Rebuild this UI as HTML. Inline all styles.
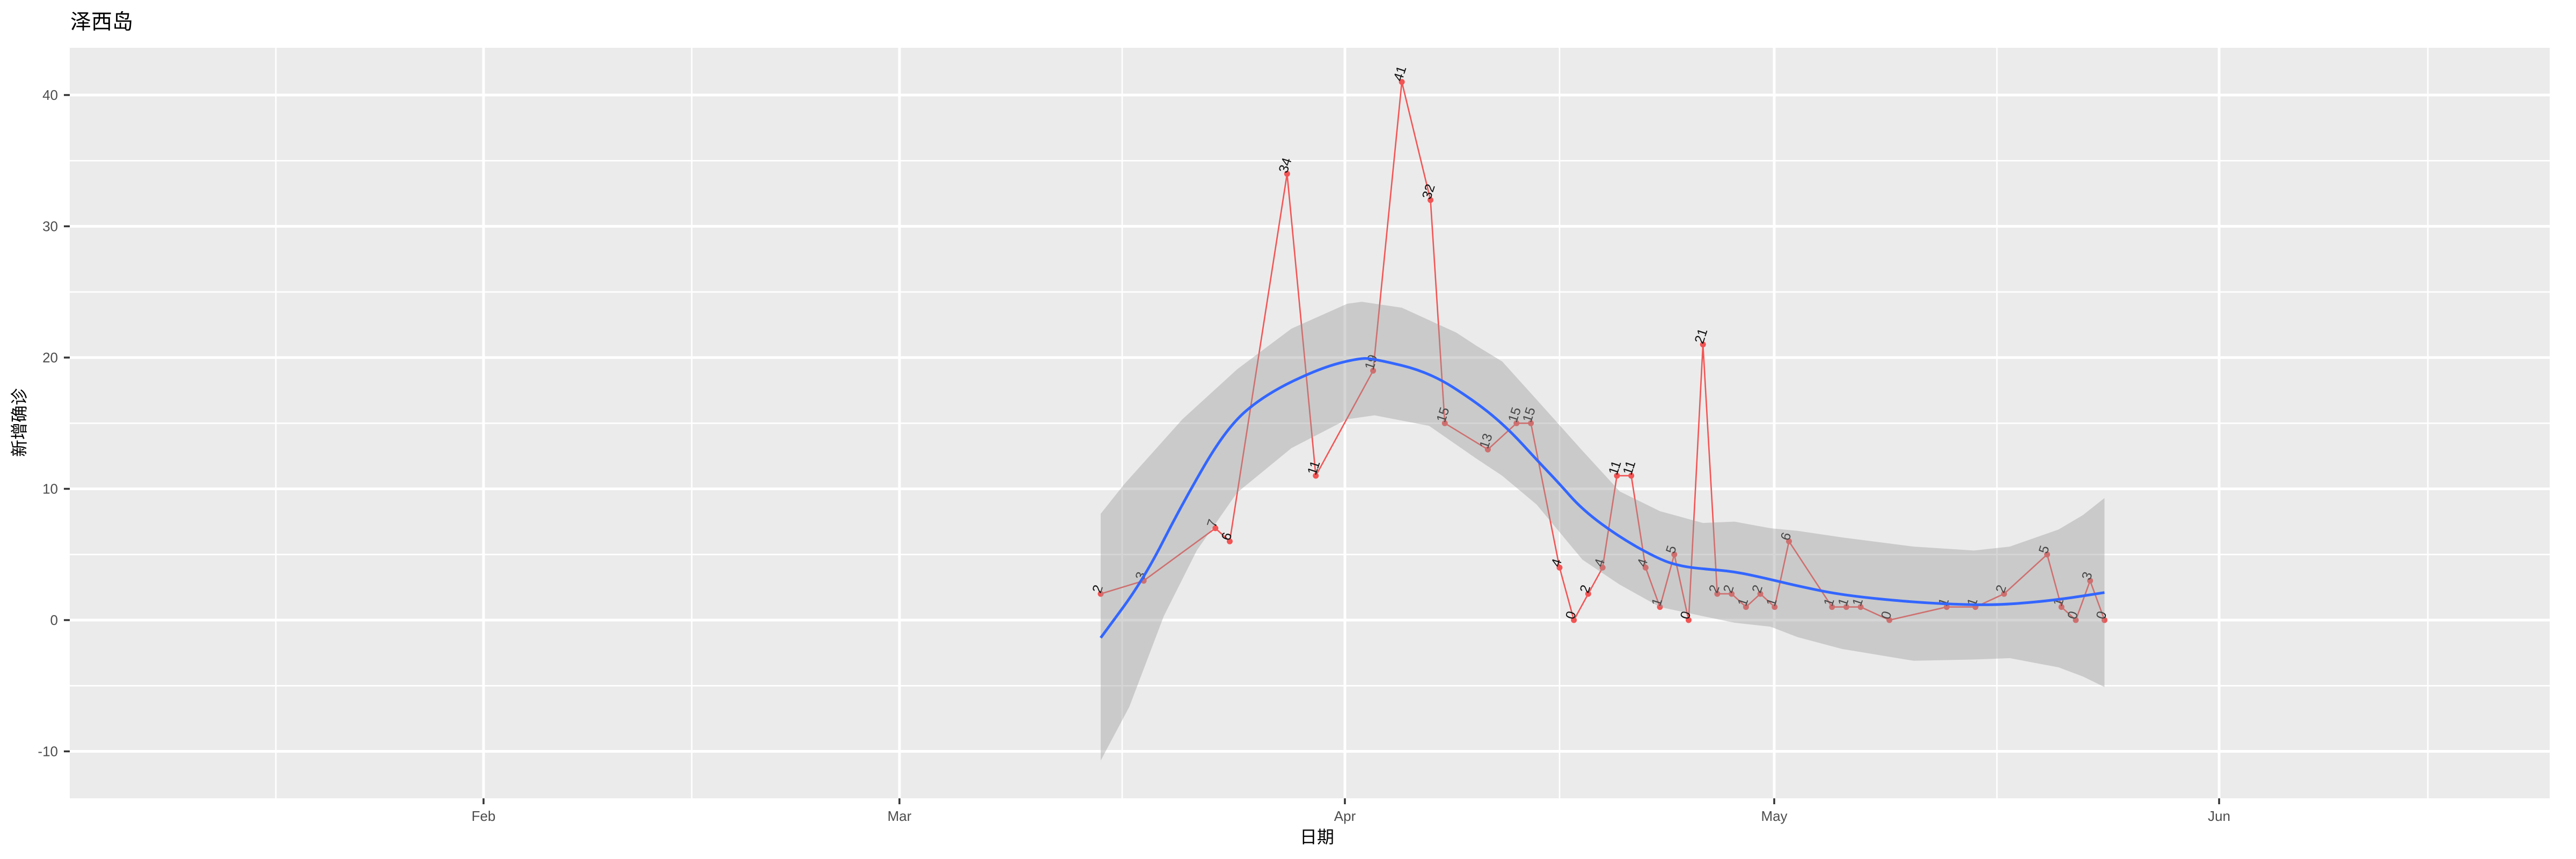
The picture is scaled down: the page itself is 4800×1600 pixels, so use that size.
<!DOCTYPE html>
<html><head><meta charset="utf-8"><style>
html,body{margin:0;padding:0;background:#fff;}
svg{display:block;}
</style></head><body>
<svg width="4800" height="1600" xmlns="http://www.w3.org/2000/svg" font-family="'Liberation Sans','Noto Sans CJK SC',sans-serif">
<rect x="0" y="0" width="4800" height="1600" fill="#fff"/>
<rect x="130" y="89" width="4621" height="1398" fill="#EBEBEB"/>
<g stroke="#fff" stroke-width="2.7">
<line x1="130" x2="4751" y1="299.3" y2="299.3"/><line x1="130" x2="4751" y1="543.8" y2="543.8"/>
<line x1="130" x2="4751" y1="788.3" y2="788.3"/><line x1="130" x2="4751" y1="1032.8" y2="1032.8"/>
<line x1="130" x2="4751" y1="1277.3" y2="1277.3"/>
<line y1="89" y2="1487" x1="514" x2="514"/><line y1="89" y2="1487" x1="1289" x2="1289"/>
<line y1="89" y2="1487" x1="2091" x2="2091"/><line y1="89" y2="1487" x1="2906" x2="2906"/>
<line y1="89" y2="1487" x1="3721" x2="3721"/><line y1="89" y2="1487" x1="4524" x2="4524"/>
</g>
<g stroke="#fff" stroke-width="5">
<line x1="130" x2="4751" y1="177" y2="177"/><line x1="130" x2="4751" y1="421.5" y2="421.5"/>
<line x1="130" x2="4751" y1="666" y2="666"/><line x1="130" x2="4751" y1="910.5" y2="910.5"/>
<line x1="130" x2="4751" y1="1155" y2="1155"/><line x1="130" x2="4751" y1="1399.5" y2="1399.5"/>
<line y1="89" y2="1487" x1="901" x2="901"/><line y1="89" y2="1487" x1="1676" x2="1676"/>
<line y1="89" y2="1487" x1="2506" x2="2506"/><line y1="89" y2="1487" x1="3306" x2="3306"/>
<line y1="89" y2="1487" x1="4135" x2="4135"/>
</g>
<polyline fill="none" stroke="#F35454" stroke-width="2.6" points="2051.0,1106.1 2131.1,1081.7 2264.7,983.9 2291.4,1008.3 2398.3,323.7 2451.8,886.1 2558.6,690.5 2612.1,152.6 2665.5,372.6 2692.2,788.3 2772.4,837.2 2825.8,788.3 2852.6,788.3 2906.0,1057.2 2932.7,1155 2959.4,1106.1 2986.2,1057.2 3012.9,886.1 3039.6,886.1 3066.3,1057.2 3093.0,1130.6 3119.8,1032.8 3146.5,1155 3173.2,641.6 3199.9,1106.1 3226.6,1106.1 3253.4,1130.6 3280.1,1106.1 3306.8,1130.6 3333.5,1008.3 3413.7,1130.6 3440.4,1130.6 3467.1,1130.6 3520.6,1155 3627.4,1130.6 3680.9,1130.6 3734.3,1106.1 3814.5,1032.8 3841.2,1130.6 3867.9,1155 3894.6,1081.7 3921.4,1155"/>
<g fill="#F35454">
<circle cx="2051.0" cy="1106.1" r="5.5"/><circle cx="2131.1" cy="1081.7" r="5.5"/><circle cx="2264.7" cy="983.9" r="5.5"/><circle cx="2291.4" cy="1008.3" r="5.5"/><circle cx="2398.3" cy="323.7" r="5.5"/><circle cx="2451.8" cy="886.1" r="5.5"/><circle cx="2558.6" cy="690.5" r="5.5"/><circle cx="2612.1" cy="152.6" r="5.5"/><circle cx="2665.5" cy="372.6" r="5.5"/><circle cx="2692.2" cy="788.3" r="5.5"/><circle cx="2772.4" cy="837.2" r="5.5"/><circle cx="2825.8" cy="788.3" r="5.5"/><circle cx="2852.6" cy="788.3" r="5.5"/><circle cx="2906.0" cy="1057.2" r="5.5"/><circle cx="2932.7" cy="1155" r="5.5"/><circle cx="2959.4" cy="1106.1" r="5.5"/><circle cx="2986.2" cy="1057.2" r="5.5"/><circle cx="3012.9" cy="886.1" r="5.5"/><circle cx="3039.6" cy="886.1" r="5.5"/><circle cx="3066.3" cy="1057.2" r="5.5"/><circle cx="3093.0" cy="1130.6" r="5.5"/><circle cx="3119.8" cy="1032.8" r="5.5"/><circle cx="3146.5" cy="1155" r="5.5"/><circle cx="3173.2" cy="641.6" r="5.5"/><circle cx="3199.9" cy="1106.1" r="5.5"/><circle cx="3226.6" cy="1106.1" r="5.5"/><circle cx="3253.4" cy="1130.6" r="5.5"/><circle cx="3280.1" cy="1106.1" r="5.5"/><circle cx="3306.8" cy="1130.6" r="5.5"/><circle cx="3333.5" cy="1008.3" r="5.5"/><circle cx="3413.7" cy="1130.6" r="5.5"/><circle cx="3440.4" cy="1130.6" r="5.5"/><circle cx="3467.1" cy="1130.6" r="5.5"/><circle cx="3520.6" cy="1155" r="5.5"/><circle cx="3627.4" cy="1130.6" r="5.5"/><circle cx="3680.9" cy="1130.6" r="5.5"/><circle cx="3734.3" cy="1106.1" r="5.5"/><circle cx="3814.5" cy="1032.8" r="5.5"/><circle cx="3841.2" cy="1130.6" r="5.5"/><circle cx="3867.9" cy="1155" r="5.5"/><circle cx="3894.6" cy="1081.7" r="5.5"/><circle cx="3921.4" cy="1155" r="5.5"/>
</g>
<g font-size="25" fill="#111">
<text transform="translate(2051.0,1106.1) rotate(-72)">2</text>
<text transform="translate(2131.1,1081.7) rotate(-72)">3</text>
<text transform="translate(2264.7,983.9) rotate(-72)">7</text>
<text transform="translate(2291.4,1008.3) rotate(-72)">6</text>
<text transform="translate(2398.3,323.7) rotate(-72)">34</text>
<text transform="translate(2451.8,886.1) rotate(-72)">11</text>
<text transform="translate(2558.6,690.5) rotate(-72)">19</text>
<text transform="translate(2612.1,152.6) rotate(-72)">41</text>
<text transform="translate(2665.5,372.6) rotate(-72)">32</text>
<text transform="translate(2692.2,788.3) rotate(-72)">15</text>
<text transform="translate(2772.4,837.2) rotate(-72)">13</text>
<text transform="translate(2825.8,788.3) rotate(-72)">15</text>
<text transform="translate(2852.6,788.3) rotate(-72)">15</text>
<text transform="translate(2906.0,1057.2) rotate(-72)">4</text>
<text transform="translate(2932.7,1155) rotate(-72)">0</text>
<text transform="translate(2959.4,1106.1) rotate(-72)">2</text>
<text transform="translate(2986.2,1057.2) rotate(-72)">4</text>
<text transform="translate(3012.9,886.1) rotate(-72)">11</text>
<text transform="translate(3039.6,886.1) rotate(-72)">11</text>
<text transform="translate(3066.3,1057.2) rotate(-72)">4</text>
<text transform="translate(3093.0,1130.6) rotate(-72)">1</text>
<text transform="translate(3119.8,1032.8) rotate(-72)">5</text>
<text transform="translate(3146.5,1155) rotate(-72)">0</text>
<text transform="translate(3173.2,641.6) rotate(-72)">21</text>
<text transform="translate(3199.9,1106.1) rotate(-72)">2</text>
<text transform="translate(3226.6,1106.1) rotate(-72)">2</text>
<text transform="translate(3253.4,1130.6) rotate(-72)">1</text>
<text transform="translate(3280.1,1106.1) rotate(-72)">2</text>
<text transform="translate(3306.8,1130.6) rotate(-72)">1</text>
<text transform="translate(3333.5,1008.3) rotate(-72)">6</text>
<text transform="translate(3413.7,1130.6) rotate(-72)">1</text>
<text transform="translate(3440.4,1130.6) rotate(-72)">1</text>
<text transform="translate(3467.1,1130.6) rotate(-72)">1</text>
<text transform="translate(3520.6,1155) rotate(-72)">0</text>
<text transform="translate(3627.4,1130.6) rotate(-72)">1</text>
<text transform="translate(3680.9,1130.6) rotate(-72)">1</text>
<text transform="translate(3734.3,1106.1) rotate(-72)">2</text>
<text transform="translate(3814.5,1032.8) rotate(-72)">5</text>
<text transform="translate(3841.2,1130.6) rotate(-72)">1</text>
<text transform="translate(3867.9,1155) rotate(-72)">0</text>
<text transform="translate(3894.6,1081.7) rotate(-72)">3</text>
<text transform="translate(3921.4,1155) rotate(-72)">0</text>
</g>
<polygon fill="#999" fill-opacity="0.4" stroke="none" points="2051,957.0 2093.7,903.2 2203.3,780.9 2305.0,688.0 2406.3,612.2 2510.5,565.8 2537.3,562.1 2612.1,573.1 2713.6,619.5 2751.0,644.0 2799.1,673.3 2863.2,744.2 2948.7,839.6 3018.2,915.4 3093.0,952.1 3173.2,974.1 3232.0,971.6 3298.8,983.9 3349.6,988.7 3432.4,1001.0 3566.0,1018.1 3678.2,1025.4 3745.0,1018.1 3835.9,986.3 3881.3,959.4 3921.4,927.6 3921.4,1279.7 3881.3,1260.1 3835.9,1243.0 3745.0,1225.9 3678.2,1228.4 3566.0,1230.8 3432.4,1208.8 3349.6,1186.8 3298.8,1167.2 3232.0,1159.9 3173.2,1147.7 3093.0,1130.6 3018.2,1089.0 2948.7,1042.5 2863.2,939.8 2799.1,886.1 2751.0,854.3 2662.8,793.1 2561.3,773.6 2510.5,780.9 2406.3,834.7 2305.0,917.8 2230.0,1025.4 2168.5,1147.7 2104.4,1316.4 2051.0,1416.6"/>
<path fill="none" stroke="#3366FF" stroke-width="5" stroke-linejoin="round" d="M2051.0,1188.0 L2091.05,1133.6 Q2131.1,1079.2 2167.2,1008.3 Q2203.3,937.4 2244.7,866.5 Q2286.1,795.6 2322.15,765.05 Q2358.2,734.5 2409.0,710.05 Q2459.8,685.6 2495.85,676.3 Q2531.9,667.0 2546.6,667.7 Q2561.3,668.4 2612.05,680.65 Q2662.8,692.9 2706.9,721.0 Q2751.0,749.1 2780.4,773.55 Q2809.8,798.0 2837.85,828.6 Q2865.9,859.2 2884.6,878.75 Q2903.3,898.3 2926.0,923.95 Q2948.7,949.6 2983.45,975.3 Q3018.2,1001.0 3055.6,1021.75 Q3093.0,1042.5 3113.05,1048.65 Q3133.1,1054.8 3153.15,1057.2 Q3173.2,1059.6 3202.6,1062.05 Q3232.0,1064.5 3265.4,1071.85 Q3298.8,1079.2 3324.2,1085.3 Q3349.6,1091.4 3391.0,1099.95 Q3432.4,1108.5 3499.2,1115.25 Q3566.0,1122.0 3622.1,1124.45 Q3678.2,1126.9 3711.6,1126.3 Q3745.0,1125.7 3790.45,1121.4 Q3835.9,1117.1 3878.65,1110.4 L3921.4,1103.7"/>
<g stroke="#333" stroke-width="3.5">
<line x1="119" x2="130" y1="177" y2="177"/><line x1="119" x2="130" y1="421.5" y2="421.5"/><line x1="119" x2="130" y1="666" y2="666"/><line x1="119" x2="130" y1="910.5" y2="910.5"/><line x1="119" x2="130" y1="1155" y2="1155"/><line x1="119" x2="130" y1="1399.5" y2="1399.5"/>
<line y1="1487" y2="1498" x1="901" x2="901"/><line y1="1487" y2="1498" x1="1676" x2="1676"/><line y1="1487" y2="1498" x1="2506" x2="2506"/><line y1="1487" y2="1498" x1="3306" x2="3306"/><line y1="1487" y2="1498" x1="4135" x2="4135"/>
</g>
<g font-size="26" fill="#4D4D4D" text-anchor="end">
<text x="108" y="186">40</text><text x="108" y="430.5">30</text><text x="108" y="675">20</text><text x="108" y="919.5">10</text><text x="108" y="1164">0</text><text x="108" y="1408.5">-10</text>
</g>
<g font-size="26" fill="#4D4D4D" text-anchor="middle">
<text x="901" y="1529">Feb</text><text x="1676" y="1529">Mar</text><text x="2506" y="1529">Apr</text><text x="3306" y="1529">May</text><text x="4135" y="1529">Jun</text>
</g>
<text x="2454" y="1570" font-size="32" text-anchor="middle" fill="#000">日期</text>
<text transform="translate(47,787) rotate(-90)" font-size="32" text-anchor="middle" fill="#000">新增确诊</text>
<text x="131" y="54" font-size="39" fill="#000">泽西岛</text>
</svg>
</body></html>
